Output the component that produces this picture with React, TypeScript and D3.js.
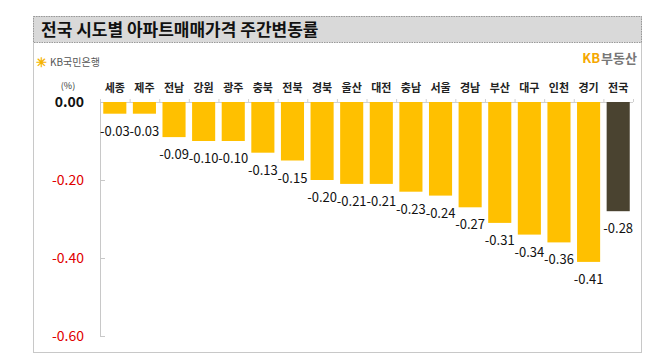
import React from "react";
import * as d3 from "d3";

const categories = ["세종","제주","전남","강원","광주","충북","전북","경북","울산","대전","충남","서울","경남","부산","대구","인천","경기","전국"];
const values = [-0.03,-0.03,-0.09,-0.10,-0.10,-0.13,-0.15,-0.20,-0.21,-0.21,-0.23,-0.24,-0.27,-0.31,-0.34,-0.36,-0.41,-0.28];
const yTicks = [0, -0.2, -0.4, -0.6];
const title = "전국 시도별 아파트매매가격 주간변동률";

const W = 668, H = 357;
const FONT = "'Noto Sans CJK KR', 'Noto Sans', sans-serif";

export default function App() {
  const x = d3.scaleBand<string>().domain(categories).range([100, 633]).paddingInner(0.22).paddingOuter(0.11);
  const y = d3.scaleLinear().domain([-0.6, 0]).range([336, 102]);
  const bw = x.bandwidth();
  const step = x.step();
  return (
    <svg width={W} height={H} style={{ position: "absolute", left: 0, top: 0 }}>
      <rect x={0} y={0} width={W} height={H} fill="#fff" />
      <rect x={33.5} y={16.5} width={608} height={336} fill="#fff" stroke="#c8c8c8" />
      <rect x={33.5} y={16.5} width={608} height={26} fill="#d9d9d9" stroke="#999" strokeDasharray="1.5,1" />
      <text x={41} y={36} fontFamily={FONT} fontSize={17} fontWeight={700} fill="#111">{title}</text>
      <text x={36} y={67} fontFamily={FONT} fontSize={13} fill="#f5b400" fontWeight={700}>✳</text>
      <text x={50} y={66} fontFamily={FONT} fontSize={10} fill="#555">KB국민은행</text>
      <text x={637} y={63} textAnchor="end" fontFamily={FONT} fontSize={13} fontWeight={700} fill="#777">
        <tspan fill="#f5a800">KB</tspan><tspan dx={1}>부동산</tspan>
      </text>
      <line x1={100.5} x2={100.5} y1={102} y2={336} stroke="#c8c8c8" />
      <line x1={100} x2={633} y1={102.5} y2={102.5} stroke="#d0d0d0" />
      {categories.map((c, i) => (
        <line key={"t" + i} x1={100 + step * i + 0.5} x2={100 + step * i + 0.5} y1={99} y2={102} stroke="#d0d0d0" />
      ))}
      <line x1={633.5} x2={633.5} y1={99} y2={102} stroke="#d0d0d0" />
      {yTicks.map((t, i) => (
        <g key={"y" + i}>
          <line x1={100} x2={105} y1={y(t) + 0.5} y2={y(t) + 0.5} stroke="#c8c8c8" />
          <text x={84} y={y(t) + 5} textAnchor="end" fontFamily={FONT} fontSize={14}
            fontWeight={t === 0 ? 700 : 400} fill={t === 0 ? "#111" : "#e00000"}>{t.toFixed(2)}</text>
        </g>
      ))}
      <text x={68} y={89} textAnchor="middle" fontFamily={FONT} fontSize={9} fill="#333">(%)</text>
      {categories.map((c, i) => (
        <text key={"c" + i} x={(x(c) as number) + bw / 2} y={92} textAnchor="middle" fontFamily={FONT}
          fontSize={11} fontWeight={700} fill="#222">{c}</text>
      ))}
      {categories.map((c, i) => (
        <rect key={"b" + i} x={x(c)} y={y(0)} width={bw} height={y(values[i]) - y(0)}
          fill={c === "전국" ? "#4a4330" : "#ffc000"} />
      ))}
      {categories.map((c, i) => (
        <text key={"v" + i} x={(x(c) as number) + bw / 2} y={y(values[i]) + 22} textAnchor="middle"
          fontFamily={FONT} fontSize={13} fill="#111">{values[i].toFixed(2)}</text>
      ))}
    </svg>
  );
}
